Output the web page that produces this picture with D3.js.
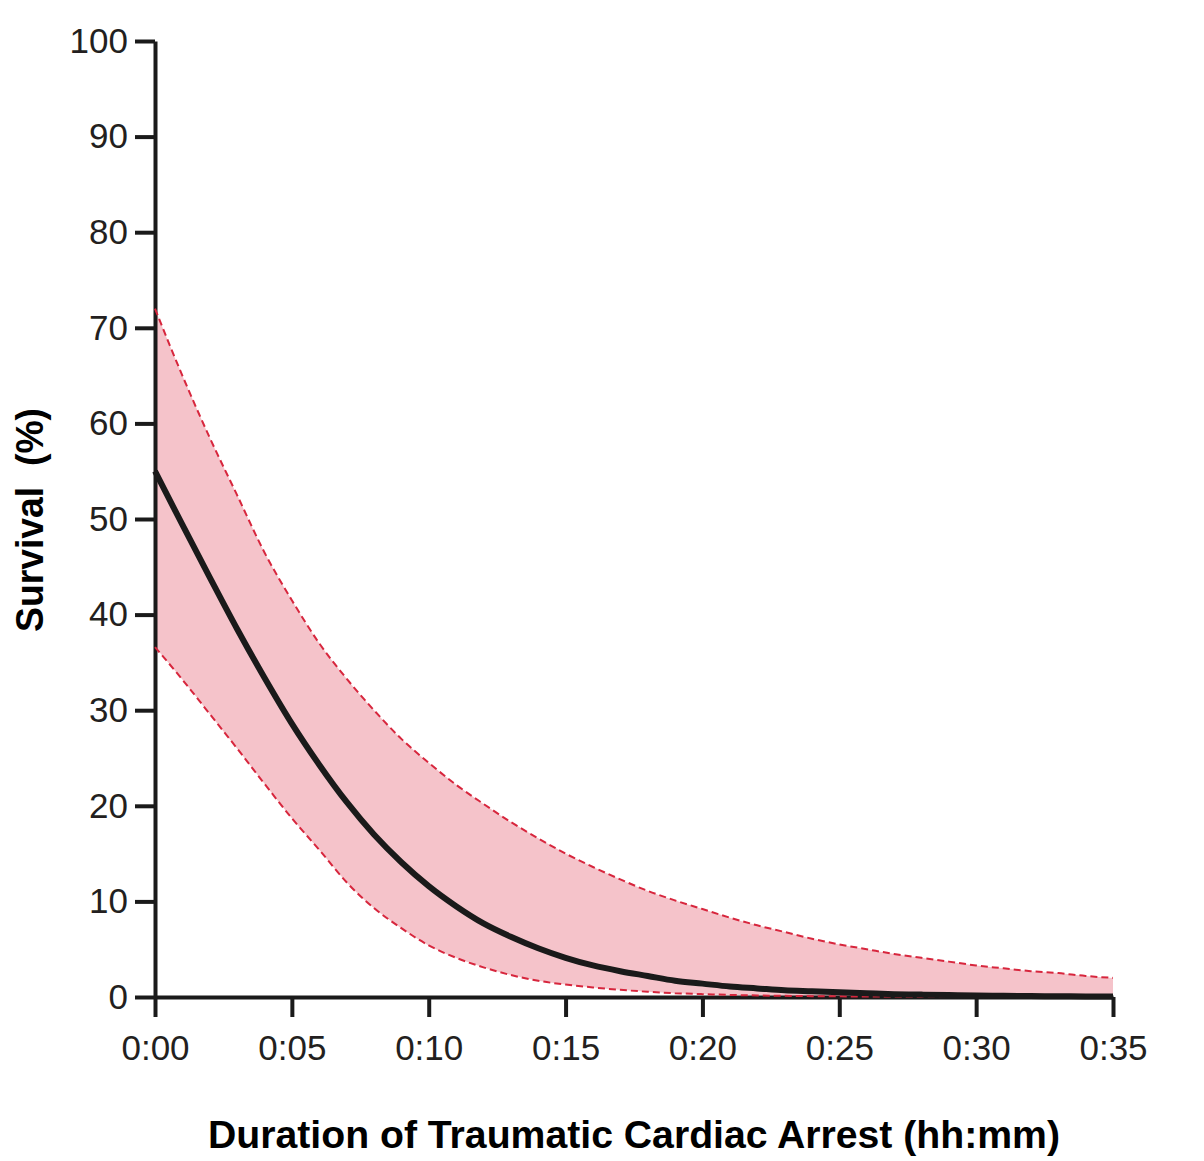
<!DOCTYPE html>
<html>
<head>
<meta charset="utf-8">
<script src="https://cdn.jsdelivr.net/npm/d3@7"></script>
<style>
  body { margin: 0; background: #fff; }
  svg { display: block; }
  text { font-family: "Liberation Sans", Arial, sans-serif; }
</style>
</head>
<body>
<div id="chart-area"></div>
<script>
// minutes since arrest
const minutes = [0, 1, 2, 3, 4, 5, 6, 7, 8, 9, 10, 11, 12, 13, 14, 15, 16, 17,
    18, 19, 20, 21, 22, 23, 24, 25, 26, 27, 28, 29, 30, 31, 32, 33, 34, 35];

// survival %
const survival = [55.0, 49.4, 43.9, 38.5, 33.4, 28.6, 24.3, 20.4, 17.0, 14.1, 11.6,
    9.5, 7.7, 6.3, 5.1, 4.1, 3.3, 2.7, 2.2, 1.7, 1.4, 1.1, 0.9, 0.7, 0.6, 0.5,
    0.4, 0.3, 0.25, 0.2, 0.15, 0.12, 0.1, 0.08, 0.06, 0.05];
const upper = [72.0, 65.0, 58.5, 52.5, 46.5, 41.5, 37.0, 33.3, 30.0, 27.0, 24.5,
    22.2, 20.2, 18.3, 16.6, 15.0, 13.6, 12.3, 11.1, 10.1, 9.2, 8.3, 7.5, 6.8,
    6.1, 5.5, 5.0, 4.5, 4.1, 3.7, 3.3, 3.0, 2.7, 2.5, 2.2, 2.0];
const lower = [36.6, 33.2, 29.6, 26.0, 22.3, 18.7, 15.4, 12.0, 9.3, 7.2, 5.4,
    4.1, 3.1, 2.3, 1.7, 1.3, 1.0, 0.75, 0.55, 0.4, 0.3, 0.22, 0.16, 0.12, 0.09,
    0.07, 0.05, 0.04, 0.03, 0.02, 0.02, 0.01, 0.01, 0.01, 0.01, 0.01];

const xTicks = [0, 5, 10, 15, 20, 25, 30, 35];
const xTickLabels = ['0:00', '0:05', '0:10', '0:15', '0:20', '0:25', '0:30', '0:35'];
const yTicks = [0, 10, 20, 30, 40, 50, 60, 70, 80, 90, 100];

const margin = { left: 155, right: 91, top: 41, bottom: 164 };
const width = 1204 - margin.left - margin.right;
const height = 1161 - margin.top - margin.bottom;

const svg = d3.select('#chart-area')
    .append('svg')
    .attr('width', 1204)
    .attr('height', 1161);

const g = svg.append('g')
    .attr('transform', 'translate(' + margin.left + ', ' + margin.top + ')');

const x = d3.scaleLinear().domain([0, 35]).range([0, width]);
const y = d3.scaleLinear().domain([0, 100]).range([height, 0]);

const rows = minutes.map((m, i) => {
    return { t: m, s: survival[i], hi: upper[i], lo: lower[i] };
});

// confidence band
const band = d3.area()
    .x((d) => x(d.t))
    .y0((d) => y(d.lo))
    .y1((d) => y(d.hi))
    .curve(d3.curveMonotoneX);

g.append('path')
    .datum(rows)
    .attr('d', band)
    .attr('fill', '#f5c3ca');

// axes
const xAxis = g.append('g')
    .attr('transform', 'translate(0, ' + height + ')')
    .call(d3.axisBottom(x)
        .tickValues(xTicks)
        .tickFormat((d, i) => xTickLabels[i])
        .tickSize(20)
        .tickSizeOuter(0)
        .tickPadding(18));

const yAxis = g.append('g')
    .call(d3.axisLeft(y)
        .tickValues(yTicks)
        .tickSize(20)
        .tickSizeOuter(0)
        .tickPadding(7));

[xAxis, yAxis].forEach((ax) => {
    ax.select('.domain').attr('stroke', '#1a1a1a').attr('stroke-width', 4);
    ax.selectAll('.tick line').attr('stroke', '#1a1a1a').attr('stroke-width', 4);
    ax.selectAll('.tick text')
        .attr('fill', '#231f20')
        .style('font-size', '35px')
        .style('font-family', '"Liberation Sans", Arial, sans-serif');
});

// bounds
const boundLine = (key) => d3.line()
    .x((d) => x(d.t))
    .y((d) => y(d[key]))
    .curve(d3.curveMonotoneX);

['hi', 'lo'].forEach((key) => {
    g.append('path')
        .datum(rows)
        .attr('d', boundLine(key))
        .attr('fill', 'none')
        .attr('stroke', '#d7263d')
        .attr('stroke-width', 2)
        .attr('stroke-dasharray', '7,4');
});

// fitted survival curve
g.append('path')
    .datum(rows)
    .attr('d', boundLine('s'))
    .attr('fill', 'none')
    .attr('stroke', '#1a1a1a')
    .attr('stroke-width', 6);

// axis titles
svg.append('text')
    .attr('x', 634)
    .attr('y', 1148)
    .attr('text-anchor', 'middle')
    .attr('textLength', 852)
    .attr('lengthAdjust', 'spacingAndGlyphs')
    .style('font-size', '38px')
    .style('font-weight', 'bold')
    .attr('fill', '#000')
    .text('Duration of Traumatic Cardiac Arrest (hh:mm)');

svg.append('text')
    .attr('transform', 'translate(43, 520) rotate(-90)')
    .attr('text-anchor', 'middle')
    .attr('textLength', 224)
    .attr('lengthAdjust', 'spacingAndGlyphs')
    .style('font-size', '38px')
    .style('font-weight', 'bold')
    .style('white-space', 'pre')
    .attr('fill', '#000')
    .text('Survival  (%)');
</script>
</body>
</html>
